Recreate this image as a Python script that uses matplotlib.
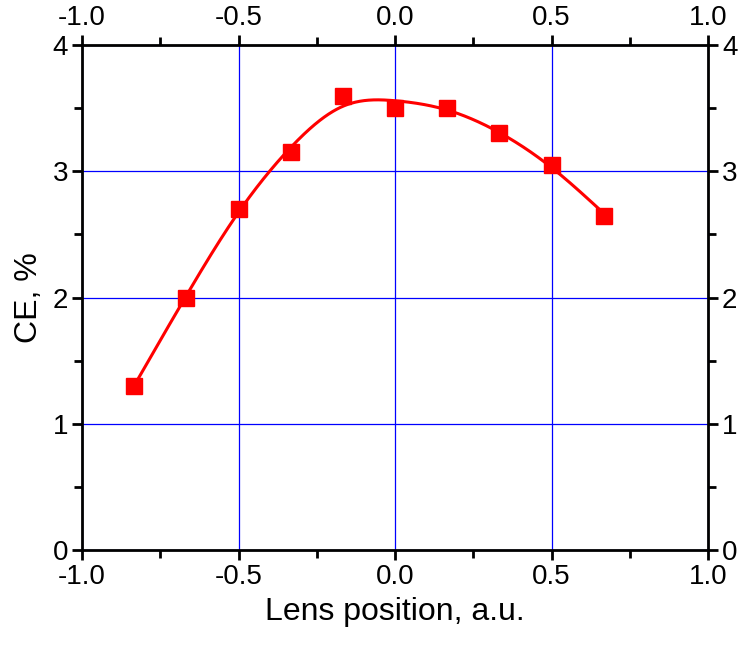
import matplotlib
matplotlib.use("Agg")
import matplotlib.pyplot as plt
import numpy as np
from matplotlib.ticker import MultipleLocator, FormatStrFormatter

plt.rcParams["font.family"] = ["Liberation Sans", "DejaVu Sans"]

# measured points
lens_pos = [-0.833, -0.667, -0.5, -0.333, -0.167, 0.0, 0.167, 0.333, 0.5, 0.667]
ce_pct = [1.3, 2.0, 2.7, 3.15, 3.6, 3.5, 3.5, 3.3, 3.05, 2.65]


def smooth_curve(x, y, lam, n=751):
    # penalised least squares on a fine grid (discrete smoothing spline)
    xs = np.linspace(x[0], x[-1], n)
    h = xs[1] - xs[0]
    idx = np.round((np.asarray(x) - xs[0]) / h).astype(int)
    W = np.zeros((n, n))
    rhs = np.zeros(n)
    W[idx, idx] = 1.0
    rhs[idx] = y
    D = np.diff(np.eye(n), 2, axis=0) / h**2
    A = W + lam * h * D.T @ D
    return xs, np.linalg.solve(A, rhs)


xs, ys = smooth_curve(lens_pos, ce_pct, 7e-4)

fig = plt.figure(figsize=(7.40, 6.49), dpi=100)
ax = fig.add_axes([0.111, 0.1525, 0.846, 0.778])

ax.plot(xs, ys, color="red", lw=2.2, zorder=3)
ax.plot(lens_pos, ce_pct, ls="none", marker="s", ms=11, color="red", zorder=4)

ax.set_xlim(-1, 1)
ax.set_ylim(0, 4)
ax.xaxis.set_major_locator(MultipleLocator(0.5))
ax.xaxis.set_minor_locator(MultipleLocator(0.25))
ax.yaxis.set_major_locator(MultipleLocator(1))
ax.yaxis.set_minor_locator(MultipleLocator(0.5))
ax.xaxis.set_major_formatter(FormatStrFormatter("%.1f"))

ax.grid(True, which="major", color="blue", lw=0.9)
ax.set_axisbelow(True)

ax.tick_params(which="both", direction="out", top=True, right=True,
               labeltop=True, labelright=True, labelsize=20, width=2, pad=3)
ax.tick_params(which="major", length=7)
ax.tick_params(which="minor", length=6)
for s in ax.spines.values():
    s.set_linewidth(2)

ax.set_xlabel("Lens position, a.u.", fontsize=23, labelpad=5)
ax.set_ylabel("CE, %", fontsize=23, labelpad=6)

fig.savefig("out.png", dpi=100)
